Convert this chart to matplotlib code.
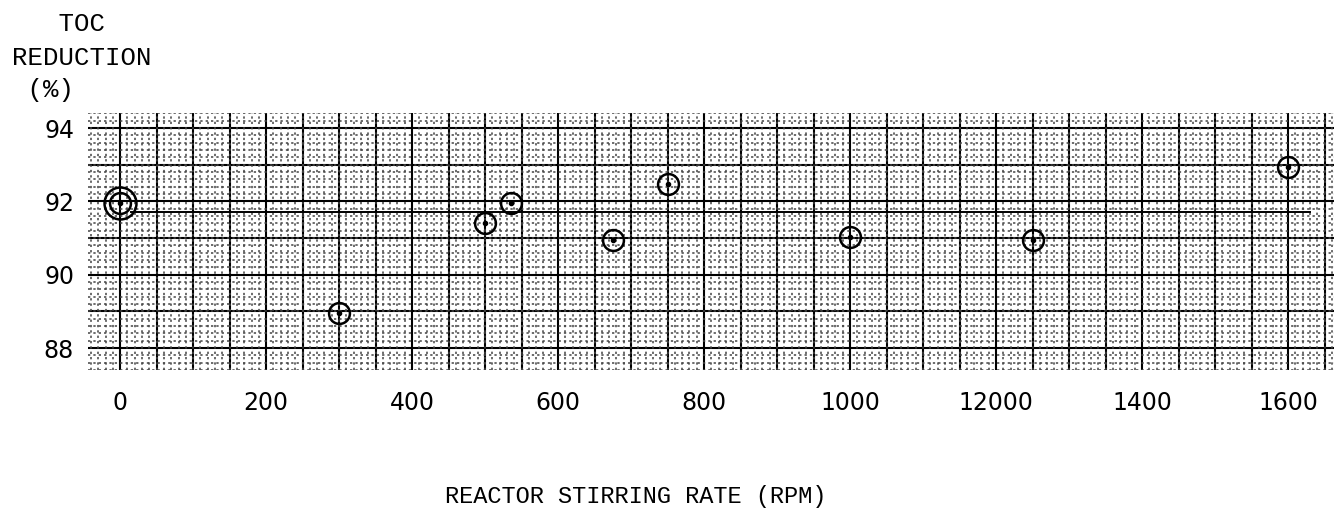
#! usr/bin/env python3

#	import modules
import numpy as np
import matplotlib
matplotlib.use('Agg')
import matplotlib.pyplot as plt
from matplotlib.ticker import MultipleLocator, FixedLocator, FixedFormatter

#   data
rpm = [0, 300, 500, 535, 675, 750, 1000, 1250, 1600]
toc = [91.95, 88.96, 91.4, 91.95, 90.95, 92.47, 91.03, 90.95, 92.95]

#   hand drawn mean line
avg_rpm = [15, 1630]
avg_toc = [91.72, 91.72]

#   tick labels as typed on the original (the 1200 is typed as 12000)
x_tick_vals = [0, 200, 400, 600, 800, 1000, 1200, 1400, 1600]
x_tick_text = ['0', '200', '400', '600', '800', '1000', '12000', '1400', '1600']
y_tick_vals = [88, 90, 92, 94]
y_tick_text = ['88', '90', '92', '94']

W, H = 1334, 517
fig = plt.figure(figsize=(W / 100, H / 100), dpi=100)
#   axes box in pixels: left 88, right 1334, top 113, bottom 370
ax = fig.add_axes([88 / W, 1 - 370 / H, (W - 88) / W, (370 - 113) / H])

ax.set_xlim(-44, 1663)
ax.set_ylim(87.4, 94.41)

#   graph paper - solid every 50 rpm / 1 %, dotted every 10 rpm / 0.2 %
for v in np.arange(0, 1663, 50):
    ax.axvline(v, color='black', lw=1.5, zorder=1)
for v in np.arange(88, 95, 1):
    ax.axhline(v, color='black', lw=1.5, zorder=1)
ax.xaxis.set_minor_locator(MultipleLocator(10))
ax.yaxis.set_minor_locator(MultipleLocator(0.2))
ax.grid(which='minor', color='#444444', lw=1.1, linestyle=(0, (1.5, 2)), zorder=0)

#   ticks - labels only, no marks
ax.xaxis.set_major_locator(FixedLocator(x_tick_vals))
ax.xaxis.set_major_formatter(FixedFormatter(x_tick_text))
ax.yaxis.set_major_locator(FixedLocator(y_tick_vals))
ax.yaxis.set_major_formatter(FixedFormatter(y_tick_text))
ax.tick_params(axis='both', which='both', length=0)
ax.tick_params(axis='x', pad=15, labelsize=17)
ax.tick_params(axis='y', pad=10, labelsize=17)
for lab in ax.get_xticklabels() + ax.get_yticklabels():
    lab.set_fontfamily('DejaVu Sans')
for s in ax.spines.values():
    s.set_visible(False)

#   mean line and the data points
ax.plot(avg_rpm, avg_toc, color='black', lw=1.4, zorder=2)
ax.plot(rpm, toc, linestyle='none', marker='o', markersize=15, markerfacecolor='none',
        markeredgecolor='black', markeredgewidth=1.8, zorder=3)
ax.plot(rpm, toc, linestyle='none', marker='o', markersize=3, color='black', zorder=3)
#   first point is circled twice on the original
ax.plot(rpm[0], toc[0], linestyle='none', marker='o', markersize=23, markerfacecolor='none',
        markeredgecolor='black', markeredgewidth=1.8, zorder=3)

#   axis titles, typed in courier on the original
fig.text(445 / W, 1 - 497 / H, 'REACTOR STIRRING RATE (RPM)', family='Liberation Mono',
         fontsize=17, ha='left', va='center')
fig.text(12 / W, 1 - 24 / H, '   TOC', family='Liberation Mono', fontsize=18.5, ha='left', va='center')
fig.text(12 / W, 1 - 58 / H, 'REDUCTION', family='Liberation Mono', fontsize=18.5, ha='left', va='center')
fig.text(12 / W, 1 - 90 / H, ' (%)', family='Liberation Mono', fontsize=18.5, ha='left', va='center')

fig.savefig('out.png', dpi=100)
plt.close()
